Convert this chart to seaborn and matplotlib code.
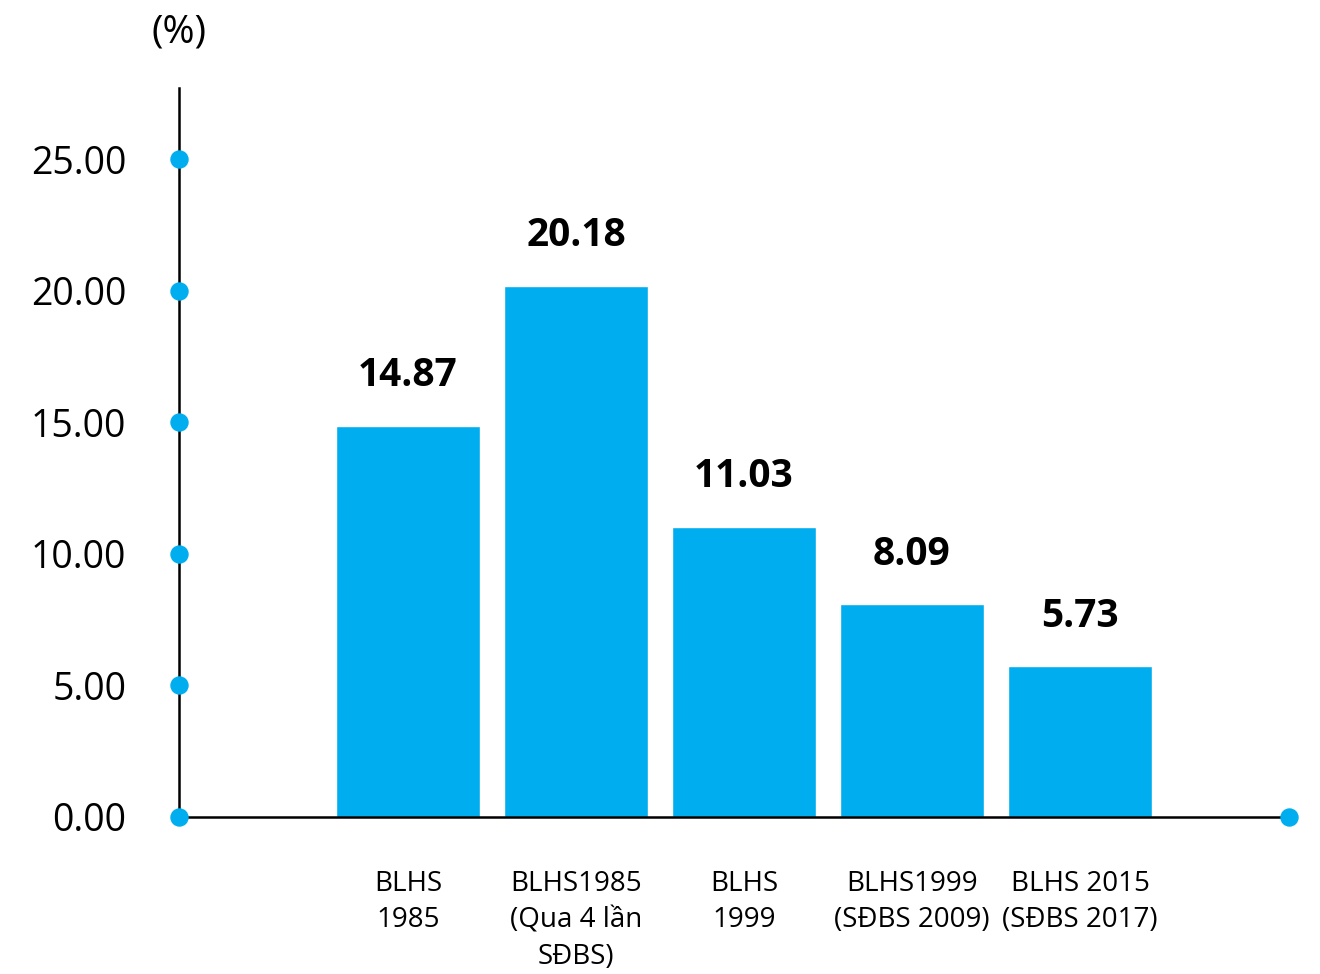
import matplotlib
matplotlib.use("Agg")
import matplotlib.pyplot as plt
import seaborn as sns
import pandas as pd

categories = ["BLHS\n1985", "BLHS1985\n(Qua 4 lần\nSĐBS)", "BLHS\n1999",
              "BLHS1999\n(SĐBS 2009)", "BLHS 2015\n(SĐBS 2017)"]
values = [14.87, 20.18, 11.03, 8.09, 5.73]
yticks = [0, 5, 10, 15, 20, 25]
ytick_labels = ["0.00", "5.00", "10.00", "15.00", "20.00", "25.00"]
unit_label = "(%)"

sns.set_theme(style="white")
plt.rcParams['font.family'] = ['Open Sans', 'DejaVu Sans']
plt.rcParams['text.color'] = 'black'
plt.rcParams['xtick.color'] = 'black'
plt.rcParams['ytick.color'] = 'black'

blue = "#00AEEF"
fig = plt.figure(figsize=(13.2, 9.74), dpi=100)
ax = fig.add_axes([0.1356, 0.1612, 0.9765 - 0.1356, 0.9097 - 0.1612])

df = pd.DataFrame({"cat": categories, "val": values})
sns.barplot(data=df, x="cat", y="val", color=blue, saturation=1, width=0.857, ax=ax)

ax.set_xlim(-1.363, 5.244)
ax.set_ylim(0, 27.7)

for p, v in zip(ax.patches, values):
    ax.annotate(f"{v:.2f}", (p.get_x() + p.get_width() / 2, p.get_height()),
                xytext=(0, 22), textcoords="offset points", ha="center", va="bottom",
                fontsize=28, fontweight="bold", color="black")

ax.set_yticks(yticks)
ax.set_yticklabels(ytick_labels, fontsize=27, color="black")
ax.tick_params(axis="y", length=0, pad=38, labelcolor="black")
ax.tick_params(axis="x", length=0, pad=38, labelsize=20, labelcolor="black")
for t in ax.get_xticklabels():
    t.set_linespacing(1.4)
ax.set_xlabel("")
ax.set_ylabel("")

for s in ["top", "right"]:
    ax.spines[s].set_visible(False)
for s in ["left", "bottom"]:
    ax.spines[s].set_color("black")
    ax.spines[s].set_linewidth(1.8)

# dots on the axis
ax.scatter([-1.363] * len(yticks), yticks, s=150, color=blue, clip_on=False, zorder=5)
ax.scatter([5.244], [0], s=150, color=blue, clip_on=False, zorder=5)

fig.text(179 / 1320, 1 - 33 / 974, unit_label, ha="center", va="center", fontsize=28, color="black")

fig.savefig("out.png", dpi=100, facecolor="white")
